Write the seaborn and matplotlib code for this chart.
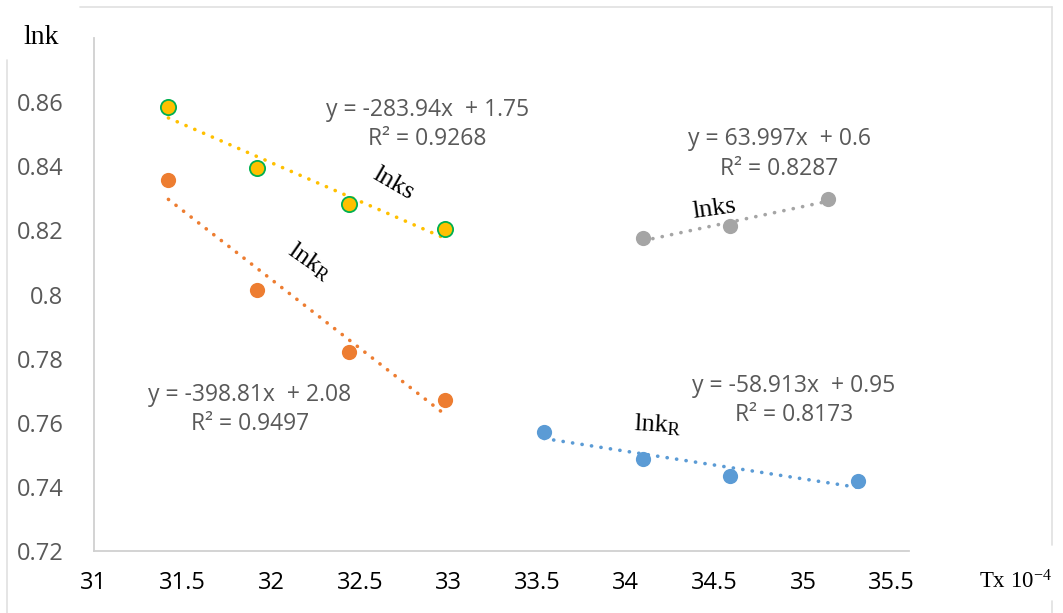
import numpy as np
import pandas as pd
import matplotlib
matplotlib.use("Agg")
import matplotlib.pyplot as plt
import seaborn as sns

# data (x = 1/T x 10^4, y = ln k)
x_left = [31.42, 31.92, 32.44, 32.98]
lnks_left = [0.8584, 0.8394, 0.8281, 0.8203]
lnkr_left = [0.8356, 0.8013, 0.7822, 0.7672]
x_blue = [33.54, 34.10, 34.59, 35.31]
lnkr_right = [0.7572, 0.7488, 0.7434, 0.7419]
x_gray = [34.10, 34.59, 35.14]
lnks_right = [0.8175, 0.8213, 0.8297]

x_ticks = [31, 31.5, 32, 32.5, 33, 33.5, 34, 34.5, 35, 35.5]
y_ticks = [0.72, 0.74, 0.76, 0.78, 0.8, 0.82, 0.84, 0.86]

sns.set_theme(style="white")
plt.rcParams['font.family'] = ['Open Sans', 'DejaVu Sans']
plt.rcParams['mathtext.fontset'] = 'custom'
plt.rcParams['mathtext.rm'] = 'Liberation Serif'
plt.rcParams['mathtext.it'] = 'Liberation Serif:italic'

fig = plt.figure(figsize=(10.63, 6.13), dpi=100)
ax = fig.add_axes([0.0884, 0.101, 0.767, 0.837])

series = [
    (x_left, lnkr_left, '#ED7D31', '#ED7D31'),
    (x_left, lnks_left, '#FFC000', '#00B050'),
    (x_blue, lnkr_right, '#5B9BD5', '#5B9BD5'),
    (x_gray, lnks_right, '#A5A5A5', '#A5A5A5'),
]
for xs, ys, col, edge in series:
    df = pd.DataFrame({"x": xs, "y": ys})
    sns.regplot(data=df, x="x", y="y", scatter=False, ci=None, truncate=True, ax=ax,
                line_kws=dict(color=col, lw=2.6, ls=(0, (0.05, 2.6)), dash_capstyle='round'))
    sns.scatterplot(data=df, x="x", y="y", ax=ax, color=col, edgecolor=edge,
                    linewidth=1.3 if edge != col else 0, s=120, zorder=3)

eq_col = '#595959'
eq_kw = dict(color=eq_col, fontsize=16.5, ha='center', va='center', linespacing=1.3)
ax.text(32.88, 0.853, "y = -283.94x  + 1.75\nR² = 0.9268", **eq_kw)
ax.text(31.88, 0.7641, "y = -398.81x  + 2.08\nR² = 0.9497", **eq_kw)
ax.text(34.866, 0.8438, "y = 63.997x  + 0.6\nR² = 0.8287", **eq_kw)
ax.text(34.95, 0.7669, "y = -58.913x  + 0.95\nR² = 0.8173", **eq_kw)

lab_kw = dict(color='black', fontsize=19, ha='center', va='center', family='Liberation Serif')
ax.text(32.69, 0.8344, "lnks", rotation=-30, **lab_kw)
ax.text(32.22, 0.8103, r"$\mathrm{lnk}_{\mathrm{R}}$", rotation=-35, **lab_kw)
ax.text(34.50, 0.8266, "lnks", rotation=8, **lab_kw)
ax.text(34.18, 0.7594, r"$\mathrm{lnk}_{\mathrm{R}}$", rotation=-3, **lab_kw)

ax.set_xlim(31, 35.6)
ax.set_ylim(0.72, 0.88)
ax.set_xticks(x_ticks)
ax.set_xticklabels([f"{t:g}" for t in x_ticks], color='black', fontsize=17)
ax.set_yticks(y_ticks)
ax.set_yticklabels([f"{t:g}" for t in y_ticks], color=eq_col, fontsize=17)
ax.tick_params(axis='x', length=0, pad=14)
ax.tick_params(axis='y', length=0, pad=22)
ax.set_xlabel("")
ax.set_ylabel("")
for side in ['top', 'right']:
    ax.spines[side].set_visible(False)
for side in ['left', 'bottom']:
    ax.spines[side].set_color('#D0D0D0')
    ax.spines[side].set_linewidth(1.3)

fig.text(0.022, 0.928, "lnk", fontsize=20, family='Liberation Serif', color='black')
fig.text(0.921, 0.04, r"Tx 10$^{\mathrm{-4}}$", fontsize=16.5, family='Liberation Serif', color='black')

# light chart frame
frame = dict(color='#E0E0E0', lw=1.2)
fig.add_artist(plt.Line2D([0.075, 0.99], [0.989, 0.989], **frame))
fig.add_artist(plt.Line2D([0.007, 0.007], [0.0, 0.902], **frame))
fig.add_artist(plt.Line2D([0.99, 0.99], [0.111, 0.989], **frame))
fig.add_artist(plt.Line2D([0.99, 0.99], [0.0, 0.02], **frame))

fig.savefig("out.png", dpi=100)
